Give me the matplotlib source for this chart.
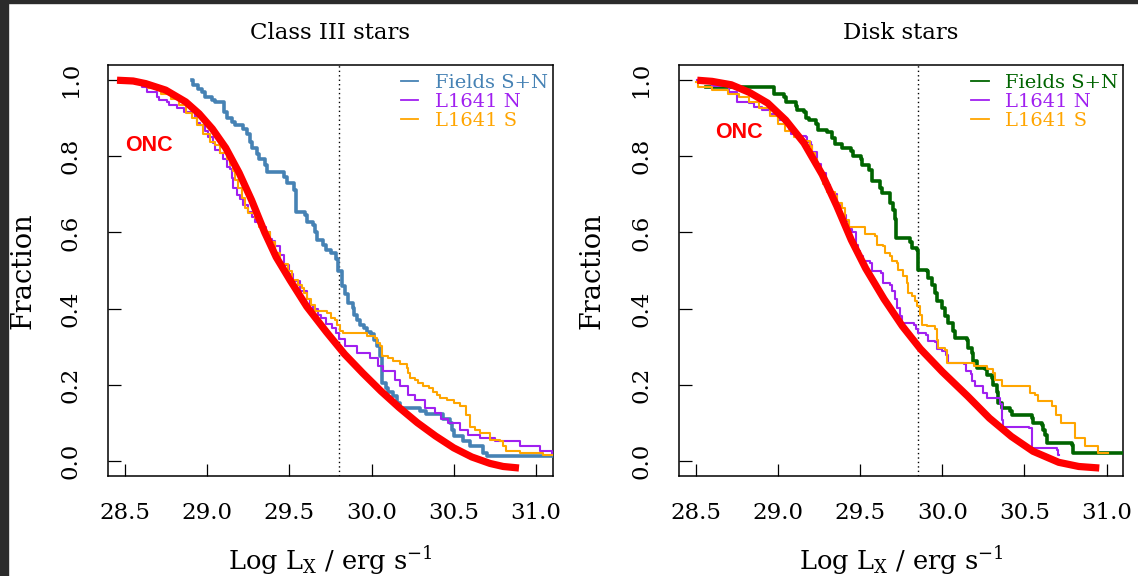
import matplotlib
matplotlib.use('Agg')
import matplotlib.pyplot as plt
from matplotlib.lines import Line2D
from matplotlib.patches import Rectangle

plt.rcParams['font.family'] = ['DejaVu Serif']
plt.rcParams['mathtext.default'] = 'regular'

# ---- Class III stars (left panel) ----
c3_fields_x = [28.906, 28.912, 28.947, 28.967, 28.987, 29.028, 29.048, 29.103, 29.119, 29.149,
               29.170, 29.216, 29.241, 29.261, 29.271, 29.302, 29.314, 29.352, 29.362, 29.468,
               29.488, 29.529, 29.541, 29.596, 29.610, 29.646, 29.656, 29.667, 29.703, 29.723,
               29.752, 29.784, 29.798, 29.819, 29.839, 29.859, 29.886, 29.895, 29.914, 29.930,
               29.954, 29.971, 29.995, 30.015, 30.035, 30.052, 30.062, 30.088, 30.102, 30.129,
               30.153, 30.173, 30.295, 30.332, 30.433, 30.478, 30.490, 30.500, 30.558, 30.599,
               30.680, 30.701, 31.100]
c3_fields_y = [1.000, 0.987, 0.978, 0.970, 0.957, 0.948, 0.943, 0.917, 0.900, 0.891,
               0.882, 0.871, 0.860, 0.838, 0.821, 0.807, 0.794, 0.777, 0.759, 0.746,
               0.731, 0.711, 0.654, 0.645, 0.628, 0.619, 0.602, 0.580, 0.566, 0.553,
               0.545, 0.531, 0.500, 0.459, 0.437, 0.415, 0.402, 0.384, 0.371, 0.358,
               0.349, 0.338, 0.332, 0.318, 0.301, 0.275, 0.205, 0.191, 0.180, 0.169,
               0.152, 0.139, 0.132, 0.123, 0.110, 0.098, 0.080, 0.064, 0.051, 0.038,
               0.021, 0.013, 0.013]

c3_n_x = [28.460, 28.540, 28.606, 28.636, 28.697, 28.707, 28.758, 28.768, 28.819, 28.860,
          28.926, 28.937, 28.957, 28.987, 29.007, 29.038, 29.050, 29.078, 29.099, 29.119,
          29.139, 29.150, 29.159, 29.180, 29.200, 29.220, 29.251, 29.271, 29.291, 29.330,
          29.360, 29.383, 29.393, 29.413, 29.440, 29.470, 29.500, 29.524, 29.565, 29.606,
          29.626, 29.646, 29.676, 29.690, 29.720, 29.760, 29.785, 29.800, 29.840, 29.910,
          29.991, 30.041, 30.072, 30.143, 30.173, 30.224, 30.265, 30.325, 30.386, 30.420,
          30.467, 30.538, 30.589, 30.660, 30.751, 30.903, 31.025, 31.096, 31.150]
c3_n_y = [1.000, 0.993, 0.983, 0.970, 0.957, 0.948, 0.943, 0.935, 0.926, 0.917,
          0.904, 0.888, 0.882, 0.866, 0.851, 0.834, 0.816, 0.808, 0.794, 0.773,
          0.768, 0.742, 0.716, 0.698, 0.689, 0.672, 0.654, 0.640, 0.628, 0.615,
          0.600, 0.584, 0.577, 0.564, 0.540, 0.515, 0.490, 0.472, 0.445, 0.424,
          0.410, 0.400, 0.384, 0.375, 0.360, 0.349, 0.336, 0.320, 0.301, 0.283,
          0.270, 0.248, 0.235, 0.213, 0.196, 0.174, 0.161, 0.139, 0.126, 0.110,
          0.099, 0.082, 0.069, 0.060, 0.051, 0.038, 0.025, 0.016, 0.016]

c3_s_x = [28.470, 28.560, 28.640, 28.720, 28.780, 28.830, 28.870, 28.906, 28.937, 28.977,
          29.018, 29.048, 29.078, 29.119, 29.139, 29.159, 29.170, 29.185, 29.210, 29.230,
          29.251, 29.291, 29.315, 29.352, 29.380, 29.410, 29.443, 29.494, 29.515, 29.550,
          29.575, 29.590, 29.606, 29.630, 29.656, 29.727, 29.750, 29.778, 29.790, 29.808,
          29.828, 29.971, 30.021, 30.032, 30.052, 30.062, 30.102, 30.133, 30.173, 30.214,
          30.224, 30.234, 30.265, 30.285, 30.315, 30.346, 30.376, 30.397, 30.417, 30.457,
          30.498, 30.540, 30.575, 30.600, 30.630, 30.660, 30.720, 30.780, 30.800, 30.820,
          30.900, 31.045, 31.150]
c3_s_y = [1.000, 0.990, 0.980, 0.965, 0.950, 0.935, 0.915, 0.901, 0.882, 0.860,
          0.838, 0.829, 0.810, 0.794, 0.777, 0.761, 0.739, 0.716, 0.690, 0.665,
          0.650, 0.638, 0.615, 0.600, 0.575, 0.545, 0.516, 0.498, 0.476, 0.461,
          0.454, 0.441, 0.426, 0.410, 0.393, 0.389, 0.375, 0.371, 0.358, 0.342,
          0.336, 0.327, 0.323, 0.310, 0.301, 0.275, 0.270, 0.261, 0.253, 0.244,
          0.231, 0.218, 0.213, 0.205, 0.196, 0.191, 0.182, 0.174, 0.165, 0.161,
          0.152, 0.143, 0.120, 0.090, 0.080, 0.073, 0.055, 0.051, 0.038, 0.025,
          0.020, 0.016, 0.010]

c3_onc_x = [28.452, 28.550, 28.627, 28.748, 28.870, 28.951, 29.032, 29.113, 29.194, 29.270,
            29.350, 29.420, 29.505, 29.606, 29.726, 29.836, 29.947, 30.057, 30.167, 30.278,
            30.389, 30.499, 30.609, 30.720, 30.800, 30.896]
c3_onc_y = [1.000, 0.998, 0.991, 0.974, 0.943, 0.912, 0.872, 0.822, 0.757, 0.685,
            0.600, 0.535, 0.474, 0.405, 0.338, 0.280, 0.230, 0.183, 0.140, 0.100,
            0.065, 0.034, 0.010, -0.007, -0.015, -0.019]

# ---- Disk stars (right panel) ----
d_fields_x = [28.565, 28.975, 29.040, 29.050, 29.110, 29.119, 29.159, 29.172, 29.190, 29.231,
              29.243, 29.301, 29.332, 29.350, 29.389, 29.443, 29.459, 29.504, 29.514, 29.555,
              29.571, 29.622, 29.632, 29.683, 29.703, 29.713, 29.720, 29.803, 29.814, 29.845,
              29.855, 29.906, 29.916, 29.936, 29.956, 29.967, 29.997, 30.017, 30.037, 30.068,
              30.078, 30.149, 30.159, 30.179, 30.189, 30.210, 30.260, 30.271, 30.301, 30.311,
              30.331, 30.341, 30.362, 30.412, 30.423, 30.544, 30.554, 30.605, 30.615, 30.625,
              30.636, 30.788, 30.797, 31.200]
d_fields_y = [0.981, 0.965, 0.955, 0.943, 0.932, 0.921, 0.917, 0.900, 0.895, 0.886,
              0.868, 0.865, 0.847, 0.832, 0.822, 0.815, 0.800, 0.794, 0.777, 0.764,
              0.735, 0.717, 0.704, 0.678, 0.660, 0.635, 0.585, 0.575, 0.560, 0.555,
              0.502, 0.498, 0.481, 0.463, 0.441, 0.419, 0.402, 0.380, 0.362, 0.340,
              0.323, 0.318, 0.297, 0.283, 0.261, 0.244, 0.240, 0.226, 0.218, 0.200,
              0.182, 0.152, 0.139, 0.130, 0.121, 0.113, 0.099, 0.095, 0.082, 0.069,
              0.047, 0.042, 0.021, 0.021]

d_n_x = [28.510, 28.600, 28.703, 28.754, 28.825, 28.855, 28.906, 28.950, 29.000, 29.038,
         29.068, 29.082, 29.119, 29.170, 29.179, 29.200, 29.210, 29.240, 29.260, 29.291,
         29.320, 29.360, 29.380, 29.413, 29.430, 29.453, 29.474, 29.490, 29.500, 29.520,
         29.560, 29.575, 29.630, 29.642, 29.683, 29.693, 29.713, 29.723, 29.743, 29.754,
         29.826, 29.838, 29.855, 29.903, 29.914, 29.956, 29.970, 29.997, 30.020, 30.035,
         30.130, 30.147, 30.172, 30.183, 30.200, 30.250, 30.271, 30.352, 30.362, 30.372,
         30.530, 30.544, 30.700, 30.706, 30.712]
d_n_y = [1.000, 0.985, 0.970, 0.943, 0.939, 0.930, 0.921, 0.910, 0.895, 0.884,
         0.873, 0.860, 0.853, 0.850, 0.838, 0.829, 0.812, 0.780, 0.755, 0.724,
         0.700, 0.672, 0.645, 0.630, 0.610, 0.600, 0.566, 0.552, 0.537, 0.524,
         0.520, 0.498, 0.494, 0.468, 0.463, 0.445, 0.424, 0.402, 0.380, 0.362,
         0.358, 0.345, 0.336, 0.330, 0.316, 0.312, 0.295, 0.288, 0.278, 0.258,
         0.255, 0.236, 0.227, 0.210, 0.196, 0.178, 0.165, 0.148, 0.108, 0.090,
         0.086, 0.034, 0.029, 0.016, 0.016]

d_s_x = [28.505, 28.515, 28.600, 28.700, 28.764, 28.825, 28.886, 28.950, 29.000, 29.044,
         29.100, 29.150, 29.196, 29.206, 29.226, 29.237, 29.257, 29.277, 29.297, 29.348,
         29.358, 29.389, 29.409, 29.430, 29.530, 29.591, 29.602, 29.642, 29.652, 29.683,
         29.693, 29.723, 29.733, 29.763, 29.784, 29.794, 29.814, 29.835, 29.845, 29.865,
         29.875, 29.906, 29.956, 29.967, 29.977, 30.017, 30.027, 30.195, 30.271, 30.311,
         30.321, 30.362, 30.534, 30.565, 30.585, 30.666, 30.690, 30.720, 30.805, 30.869,
         30.950, 31.010]
d_s_y = [0.995, 0.983, 0.975, 0.965, 0.957, 0.943, 0.926, 0.905, 0.885, 0.866,
         0.850, 0.840, 0.827, 0.809, 0.792, 0.774, 0.750, 0.726, 0.705, 0.695,
         0.678, 0.665, 0.634, 0.615, 0.595, 0.590, 0.568, 0.564, 0.546, 0.537,
         0.524, 0.520, 0.502, 0.485, 0.468, 0.441, 0.432, 0.419, 0.406, 0.384,
         0.358, 0.353, 0.345, 0.318, 0.297, 0.292, 0.257, 0.248, 0.240, 0.231,
         0.213, 0.196, 0.178, 0.174, 0.156, 0.145, 0.120, 0.099, 0.060, 0.038,
         0.021, 0.021]

d_onc_x = [28.510, 28.600, 28.717, 28.827, 28.938, 29.048, 29.159, 29.270, 29.358, 29.447,
           29.535, 29.646, 29.757, 29.867, 30.000, 30.154, 30.287, 30.420, 30.552, 30.708,
           30.830, 30.955]
d_onc_y = [1.000, 0.997, 0.988, 0.968, 0.940, 0.895, 0.835, 0.752, 0.670, 0.580,
           0.505, 0.425, 0.354, 0.294, 0.234, 0.170, 0.112, 0.064, 0.025, -0.004,
           -0.015, -0.019]

titles = ['Class III stars', 'Disk stars']
legend_labels = ['Fields S+N', 'L1641 N', 'L1641 S']
lx_cut = [29.80, 29.85]  # dotted vertical reference
x_ticks = [28.5, 29.0, 29.5, 30.0, 30.5, 31.0]
x_tick_labels = ['28.5', '29.0', '29.5', '30.0', '30.5', '31.0']
y_ticks = [0.0, 0.2, 0.4, 0.6, 0.8, 1.0]
y_tick_labels = ['0.0', '0.2', '0.4', '0.6', '0.8', '1.0']

fig = plt.figure(figsize=(11.38, 5.76), dpi=100)
fig.patch.set_facecolor('white')

W, H = 1138.0, 576.0
ax1 = fig.add_axes([108.3 / W, 1 - 476 / H, 444.4 / W, 411 / H])
ax2 = fig.add_axes([679.0 / W, 1 - 476 / H, 444.3 / W, 411 / H])

panels = [
    (ax1, (c3_fields_x, c3_fields_y), (c3_n_x, c3_n_y), (c3_s_x, c3_s_y),
     (c3_onc_x, c3_onc_y), '#4682b4', (28.648, 0.829), -0.162),
    (ax2, (d_fields_x, d_fields_y), (d_n_x, d_n_y), (d_s_x, d_s_y),
     (d_onc_x, d_onc_y), '#006400', (28.763, 0.862), -0.166),
]

for i, (ax, fields, north, south, onc, fcol, onc_xy, ylab_x) in enumerate(panels):
    ax.plot(fields[0], fields[1], drawstyle='steps-post', color=fcol, lw=2.6, zorder=3)
    ax.plot(north[0], north[1], drawstyle='steps-post', color='#a020f0', lw=1.5, zorder=3)
    ax.plot(south[0], south[1], drawstyle='steps-post', color='#ffa500', lw=1.5, zorder=3)
    ax.plot(onc[0], onc[1], color='#ff0000', lw=5.2, solid_capstyle='butt',
            solid_joinstyle='round', zorder=4)
    ax.axvline(lx_cut[i], color='black', lw=1.0, ls=(0, (1, 2.2)), zorder=2)

    ax.text(onc_xy[0], onc_xy[1], 'ONC', color='#ff0000', fontsize=15.5,
            fontweight='bold', family=['Liberation Sans', 'DejaVu Sans'],
            ha='center', va='center')

    ax.set_xlim(28.399, 31.101)
    ax.set_ylim(-0.04, 1.04)
    ax.set_xticks(x_ticks)
    ax.set_xticklabels(x_tick_labels)
    ax.set_yticks(y_ticks)
    ax.set_yticklabels(y_tick_labels, rotation=90, va='center')
    ax.tick_params(direction='in', length=9, width=0.9, pad=19, labelsize=16.5,
                   top=False, right=False)
    for sp in ax.spines.values():
        sp.set_linewidth(1.1)

    ax.set_title(titles[i], fontsize=16.5, pad=19)
    ax.set_xlabel(r'Log L$_X$ / erg s$^{-1}$', fontsize=18.5)
    ax.xaxis.set_label_coords(0.5, -0.165)
    ax.set_ylabel('Fraction', fontsize=19.5)
    ax.yaxis.set_label_coords(ylab_x, 0.5)

    colors = [fcol, '#a020f0', '#ffa500']
    handles = [Line2D([], [], color=c, lw=1.3) for c in colors]
    ax.legend(handles, legend_labels, loc='upper right', bbox_to_anchor=(1.0, 0.99),
              frameon=False, fontsize=14, handlelength=0.9, handletextpad=0.85,
              labelspacing=0.06, borderaxespad=0.0, borderpad=0.25, labelcolor=colors)

# dark screenshot border along top and left
fig.add_artist(Rectangle((0, 0), 8 / W, 1, transform=fig.transFigure,
                         color='#2b2b2b', zorder=10))
fig.add_artist(Rectangle((0, 1 - 3 / H), 1, 3 / H, transform=fig.transFigure,
                         color='#2b2b2b', zorder=10))

fig.savefig('out.png', dpi=100)
